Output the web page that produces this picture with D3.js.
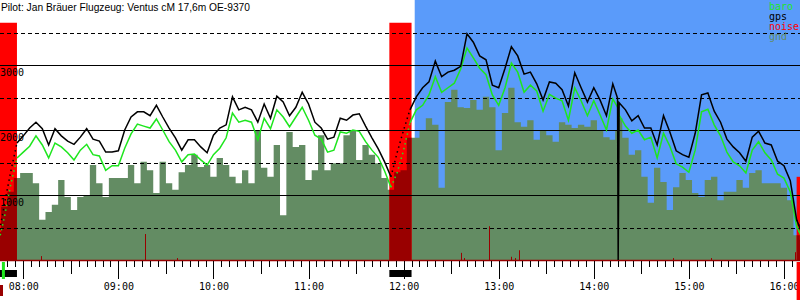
<!DOCTYPE html>
<html>
<head>
<meta charset="utf-8">
<script src="https://cdn.jsdelivr.net/npm/d3@7"></script>
<style>
  body { margin: 0; background: #fff; }
  svg { display: block; }
</style>
</head>
<body>
<div id="chart"></div>
<script>
const title = "Pilot: Jan Bräuer Flugzeug: Ventus cM 17,6m OE-9370";

const times = [
  "07:44", "07:48", "07:52", "07:56",
  "08:00", "08:04", "08:08", "08:12", "08:16", "08:20", "08:24", "08:28", "08:32", "08:36", "08:40", "08:44", "08:48", "08:52", "08:56",
  "09:00", "09:04", "09:08", "09:12", "09:16", "09:20", "09:24", "09:28", "09:32", "09:36", "09:40", "09:44", "09:48", "09:52", "09:56",
  "10:00", "10:04", "10:08", "10:12", "10:16", "10:20", "10:24", "10:28", "10:32", "10:36", "10:40", "10:44", "10:48", "10:52", "10:56",
  "11:00", "11:04", "11:08", "11:12", "11:16", "11:20", "11:24", "11:28", "11:32", "11:36", "11:40", "11:44", "11:48", "11:52", "11:56",
  "12:00", "12:04", "12:08", "12:12", "12:16", "12:20", "12:24", "12:28", "12:32", "12:36", "12:40", "12:44", "12:48", "12:52", "12:56",
  "13:00", "13:04", "13:08", "13:12", "13:16", "13:20", "13:24", "13:28", "13:32", "13:36", "13:40", "13:44", "13:48", "13:52", "13:56",
  "14:00", "14:04", "14:08", "14:12", "14:15", "14:15:24", "14:16", "14:20", "14:24", "14:28", "14:32", "14:36", "14:40", "14:44", "14:48", "14:52", "14:56",
  "15:00", "15:04", "15:08", "15:12", "15:16", "15:20", "15:24", "15:28", "15:32", "15:36", "15:40", "15:44", "15:48", "15:52", "15:56",
  "16:00", "16:04", "16:08", "16:12"
];

// altitude in metres
const gps = [
  310, 850, 1350, 1800,
  1910, 2030, 2120, 2020, 1770, 2020, 1910, 1830, 1780, 1890, 2020, 1860, 1830, 1660, 1660,
  1680, 2000, 2200, 2280, 2280, 2220, 2380, 2200, 2030, 1880, 1690, 1850, 1850, 1740, 1650,
  1920, 2030, 2080, 2510, 2310, 2350, 2310, 2120, 2400, 2180, 2520, 2430, 2220, 2350, 2580,
  2400, 2120, 2030, 1860, 1890, 2180, 2150, 2230, 2250, 2060, 1880, 1710, 1510, 1280, 1660,
  2000, 2310, 2510, 2650, 2740, 3060, 2820, 2890, 2920, 2980, 3480, 3350, 3140, 3080, 2690,
  2650, 2950, 3280, 3140, 2860, 2890, 2710, 2460, 2740, 2720, 2620, 2370, 2880, 2650, 2430,
  2650, 2460, 2220, 2710, 2490, 0, 2420, 2310, 2140, 2220, 2030, 2030, 1770, 2220, 1970, 1680, 1620,
  1580, 1950, 2540, 2570, 2290, 2120, 1860, 1740, 1650, 1520, 1890, 1980, 1800, 1770, 1520,
  1450, 1220, 620, 380
];

const baro = [
  230, 650, 1150, 1570,
  1660, 1750, 1910, 1770, 1570, 1800, 1740, 1650, 1540, 1690, 1780, 1620, 1600, 1380, 1450,
  1450, 1720, 1940, 2090, 2060, 2030, 2170, 2000, 1820, 1690, 1510, 1620, 1630, 1540, 1460,
  1620, 1720, 1880, 2260, 2120, 2150, 2120, 1850, 2180, 2020, 2310, 2200, 2050, 2200, 2350,
  2150, 1920, 1860, 1660, 1690, 1970, 1950, 2000, 1980, 1820, 1690, 1580, 1370, 1120, 1350,
  1690, 2110, 2310, 2380, 2540, 2820, 2580, 2650, 2720, 2940, 3260, 3110, 2950, 2850, 2540,
  2380, 2650, 3030, 2890, 2580, 2690, 2600, 2290, 2550, 2490, 2450, 2150, 2650, 2450, 2220,
  2450, 2230, 2000, 2480, 2350, 2310, 2230, 2060, 1950, 2000, 1850, 1890, 1570, 1950, 1750, 1480, 1430,
  1350, 1690, 2280, 2320, 2080, 1910, 1660, 1510, 1450, 1340, 1690, 1820, 1650, 1540, 1320,
  1260, 1050, 520, 310
];

const gnd = [
  430, 820, 1050, 1260,
  1340, 1340, 1180, 620, 740, 850, 1230, 970, 770, 970, 1000, 1460, 1180, 970, 1260,
  1260, 1260, 1460, 1180, 1510, 1380, 1030, 1510, 1180, 1080, 1350, 1460, 1620, 1430, 1460,
  1280, 1570, 1460, 1280, 1180, 1380, 1180, 2000, 1420, 1280, 1770, 690, 1970, 1740, 1770,
  1230, 1380, 1920, 1380, 1490, 1490, 1920, 2000, 1540, 1770, 1620, 1490, 1260, 1080, 1350,
  1380, 1880, 1880, 2000, 2180, 2080, 1110, 2430, 2620, 2350, 2340, 2460, 2310, 2510, 2350,
  1690, 2260, 2650, 2120, 2050, 2150, 1850, 2000, 1920, 1820, 2120, 2080, 2030, 2080, 2050,
  2150, 2000, 1890, 1850, 2000, 2180, 2180, 1880, 1620, 1690, 1280, 880, 1420, 1200, 770, 1120, 1340,
  1230, 1030, 970, 1230, 1280, 920, 1050, 1050, 1230, 1110, 1340, 1380, 1180, 1180, 1180,
  1110, 920, 380, 310
];

// engine runs (noise level while running)
const engineStart = ["07:44", "11:51", "16:08"];
const engineEnd = ["07:56", "12:05", "16:12"];
const engineNoise = [3650, 3650, 1280];

// short noise peaks
const noiseTimes = ["08:11", "09:17", "09:37", "12:36", "12:38", "12:54", "13:08", "13:10", "13:13", "14:50", "15:14", "16:07"];
const noiseValues = [60, 400, 30, 110, 30, 520, 50, 30, 150, 30, 30, 120];

const taskStart = "12:07";
const takeoff = "07:46:30";
const logStart = "07:45:18";

const gridSolid = [1000, 2000, 3000];
const gridDashed = [500, 1500, 2500, 3500];
const legendLabels = ["baro", "gps", "noise", "gnd"];

const width = 800;
const height = 300;
const mono = "'DejaVu Sans Mono', monospace";
const colors = { baro: "#1ee61e", gps: "#000000", noise: "#ff0000", gnd: "#638c63" };
const darkRed = "#990000";
const blue = "#5a9bfa";

const parse = (s) => {
  const [h, m, sec = 0] = s.split(":").map(Number);
  return new Date(2000, 0, 1, h, m, sec);
};

const data = times.map((t, i) => ({ t: parse(t), gps: gps[i], baro: baro[i], gnd: gnd[i] }));
const engines = engineStart.map((s, i) => ({ s: parse(s), e: parse(engineEnd[i]), v: engineNoise[i] }));

const x = d3.scaleTime()
  .domain([parse("07:45:18"), parse("16:10:08")])
  .range([0, width]);
const y = d3.scaleLinear().domain([0, 4000]).range([260, 0]);

const svg = d3.select("#chart")
  .append("svg")
  .attr("width", width)
  .attr("height", height)
  .attr("viewBox", `0 0 ${width} ${height}`);

svg.append("rect").attr("width", width).attr("height", height).attr("fill", "#fff");

// task background
svg.append("rect")
  .attr("x", x(parse(taskStart)))
  .attr("y", 0)
  .attr("width", width - x(parse(taskStart)))
  .attr("height", y(0))
  .attr("fill", blue);

// ground
const area = d3.area()
  .curve(d3.curveStep)
  .x((d) => x(d.t))
  .y0(y(0))
  .y1((d) => y(d.gnd));

svg.append("path").datum(data).attr("fill", colors.gnd).attr("d", area);

// engine noise blocks
svg.append("g")
  .selectAll("rect")
  .data(engines)
  .join("rect")
  .attr("x", (d) => x(d.s))
  .attr("y", (d) => y(d.v))
  .attr("width", (d) => x(d.e) - x(d.s))
  .attr("height", (d) => y(0) - y(d.v))
  .attr("fill", colors.noise);

svg.append("clipPath")
  .attr("id", "engine-clip")
  .selectAll("rect")
  .data(engines)
  .join("rect")
  .attr("x", (d) => x(d.s))
  .attr("y", 0)
  .attr("width", (d) => x(d.e) - x(d.s))
  .attr("height", y(0));

svg.append("path")
  .datum(data)
  .attr("fill", darkRed)
  .attr("clip-path", "url(#engine-clip)")
  .attr("d", area);

// grid
svg.append("g")
  .selectAll("line")
  .data(gridDashed)
  .join("line")
  .attr("x1", 0)
  .attr("x2", width)
  .attr("y1", (d) => Math.round(y(d)) + 0.5)
  .attr("y2", (d) => Math.round(y(d)) + 0.5)
  .attr("stroke", "#000")
  .attr("stroke-dasharray", "4 3");

svg.append("g")
  .selectAll("line")
  .data(gridSolid)
  .join("line")
  .attr("x1", 0)
  .attr("x2", width)
  .attr("y1", (d) => Math.round(y(d)) + 0.5)
  .attr("y2", (d) => Math.round(y(d)) + 0.5)
  .attr("stroke", "#000");

// noise peaks
svg.append("g")
  .selectAll("line")
  .data(noiseTimes.map((t, i) => ({ t: parse(t), v: noiseValues[i] })))
  .join("line")
  .attr("x1", (d) => Math.round(x(d.t)) + 0.5)
  .attr("x2", (d) => Math.round(x(d.t)) + 0.5)
  .attr("y1", y(0))
  .attr("y2", (d) => y(d.v))
  .attr("stroke", darkRed);

svg.append("line")
  .attr("x1", 0)
  .attr("x2", width)
  .attr("y1", y(0) + 0.5)
  .attr("y2", y(0) + 0.5)
  .attr("stroke", darkRed)
  .attr("stroke-width", 1.5);

// traces: solid in gliding flight, dotted while the engine runs
const minute = 60000;
const running = (t) => engines.some((e) => t >= e.s && t <= e.e);
const strictlyRunning = (t) => engines.some((e) => t > +e.s + minute && t < +e.e - minute);

["baro", "gps"].forEach((key) => {
  const solid = d3.line()
    .defined((d) => !strictlyRunning(d.t))
    .x((d) => x(d.t))
    .y((d) => y(d[key]));
  const dotted = d3.line()
    .defined((d) => running(d.t))
    .x((d) => x(d.t))
    .y((d) => y(d[key]));

  svg.append("path")
    .datum(data)
    .attr("fill", "none")
    .attr("stroke", colors[key])
    .attr("stroke-width", 1.5)
    .attr("d", solid);

  svg.append("path")
    .datum(data)
    .attr("fill", "none")
    .attr("stroke", colors[key])
    .attr("stroke-width", 1.5)
    .attr("stroke-dasharray", "1.5 3.5")
    .attr("d", dotted);
});

// y labels
svg.append("g")
  .selectAll("text")
  .data(gridSolid)
  .join("text")
  .attr("x", 0)
  .attr("y", (d) => y(d) + 11)
  .attr("font-family", mono)
  .attr("font-size", 10)
  .attr("fill", "#000")
  .text((d) => d);

// x axis
const gAxis = svg.append("g").attr("transform", `translate(0,${y(0) + 1})`);
[
  { every: d3.timeMinute.every(5), size: 6, format: () => "" },
  { every: d3.timeMinute.every(30), size: 13, format: () => "" },
  { every: d3.timeHour.every(1), size: 18, format: d3.timeFormat("%H:%M") }
].forEach((level) => {
  const g = gAxis.append("g")
    .call(d3.axisBottom(x).ticks(level.every).tickSize(level.size).tickSizeOuter(0).tickFormat(level.format));
  g.select(".domain").remove();
  g.selectAll("line").attr("stroke", "#000").attr("shape-rendering", "crispEdges");
  g.selectAll("text")
    .attr("y", 29)
    .attr("dy", 0)
    .attr("font-family", mono)
    .attr("font-size", 10)
    .attr("fill", "#000");
});

// engine markers under the axis
svg.append("g")
  .selectAll("rect")
  .data(engines.slice(0, 2))
  .join("rect")
  .attr("x", (d) => x(d.s))
  .attr("y", 270)
  .attr("width", (d) => x(d.e) - x(d.s))
  .attr("height", 7)
  .attr("fill", "#000");

const last = engines[engines.length - 1];
svg.append("rect")
  .attr("x", x(last.s))
  .attr("y", y(0) + 2)
  .attr("width", x(last.e) - x(last.s))
  .attr("height", 38)
  .attr("fill", colors.noise);

svg.append("rect")
  .attr("x", x(parse(takeoff)))
  .attr("y", y(0) + 2)
  .attr("width", 3)
  .attr("height", 17)
  .attr("fill", colors.baro);

svg.append("rect")
  .attr("x", x(parse(logStart)))
  .attr("y", 285)
  .attr("width", 3)
  .attr("height", 11)
  .attr("fill", darkRed);

// legend
svg.append("g")
  .selectAll("text")
  .data(legendLabels)
  .join("text")
  .attr("x", 769)
  .attr("y", (d, i) => 10 + i * 10)
  .attr("font-family", mono)
  .attr("font-size", 10)
  .attr("fill", (d) => colors[d])
  .text((d) => d);

// title
svg.append("text")
  .attr("x", 1)
  .attr("y", 11)
  .attr("font-family", "'Liberation Sans', Arial, sans-serif")
  .attr("font-size", 10.5)
  .attr("textLength", 249)
  .attr("lengthAdjust", "spacingAndGlyphs")
  .attr("fill", "#000")
  .text(title);
</script>
</body>
</html>
